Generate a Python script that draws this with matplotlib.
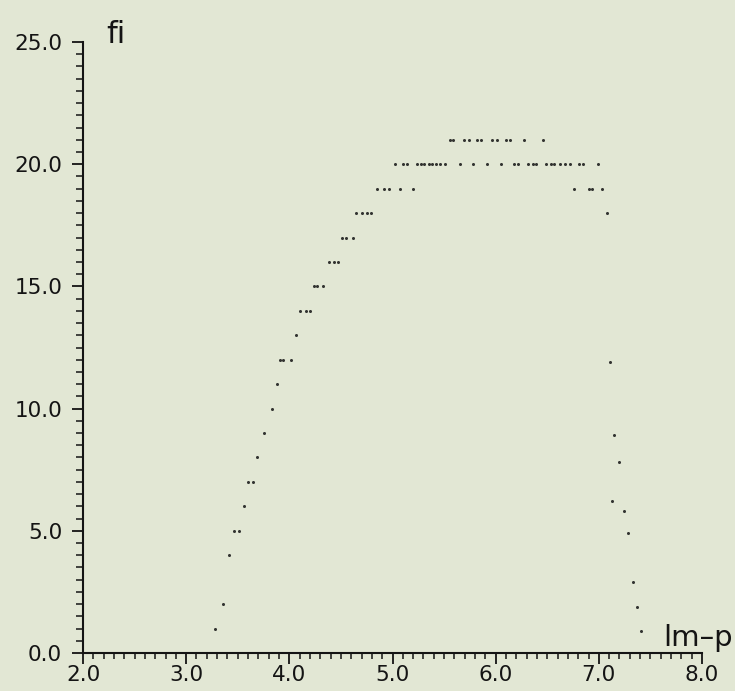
import matplotlib
matplotlib.use("Agg")
import matplotlib.pyplot as plt
from matplotlib.ticker import MultipleLocator, FormatStrFormatter

# values (rows of constant fi)
rows_fi = [1, 2, 4, 5, 6, 7, 8, 9, 10, 11, 12, 13, 14, 15, 16, 17, 18, 19, 20, 21]
rows_lmp = [
    [3.28],
    [3.36],
    [3.42],
    [3.46, 3.51],
    [3.56],
    [3.60, 3.65],
    [3.69],
    [3.75],
    [3.83],
    [3.88],
    [3.91, 3.94, 4.02],
    [4.06],
    [4.10, 4.16, 4.20],
    [4.24, 4.27, 4.33],
    [4.38, 4.43, 4.47],
    [4.51, 4.55, 4.62],
    [4.65, 4.70, 4.75, 4.79, 7.08],
    [4.85, 4.92, 4.97, 5.07, 5.20, 6.76, 6.90, 6.93, 7.03],
    [5.02, 5.10, 5.14, 5.24, 5.28, 5.31, 5.35, 5.38, 5.42, 5.46, 5.51, 5.65,
     5.78, 5.92, 6.05, 6.18, 6.22, 6.31, 6.36, 6.39, 6.49, 6.54, 6.57, 6.62,
     6.67, 6.72, 6.81, 6.85, 6.99],
    [5.56, 5.59, 5.69, 5.74, 5.82, 5.86, 5.96, 6.01, 6.10, 6.14, 6.27, 6.46],
]

# falling branch on the right
fall_lmp = [7.11, 7.15, 7.20, 7.13, 7.24, 7.28, 7.33, 7.37, 7.41]
fall_fi = [11.9, 8.9, 7.8, 6.2, 5.8, 4.9, 2.9, 1.9, 0.9]

x_ticks = [2.0, 3.0, 4.0, 5.0, 6.0, 7.0, 8.0]
y_ticks = [0.0, 5.0, 10.0, 15.0, 20.0, 25.0]

bg = '#e2e7d4'
ink = '#141414'

xs = []
ys = []
for f, row in zip(rows_fi, rows_lmp):
    for v in row:
        xs.append(v)
        ys.append(f)
xs += fall_lmp
ys += fall_fi

fig = plt.figure(figsize=(7.35, 6.91), dpi=100, facecolor=bg)
ax = fig.add_axes([83/735, 38/691, 619/735, 611/691])
ax.set_facecolor(bg)

ax.plot(xs, ys, 'o', ms=2.2, color=ink, alpha=0.85, mec='none', clip_on=False)

ax.set_xlim(2.0, 8.0)
ax.set_ylim(0.0, 25.0)
ax.set_xticks(x_ticks)
ax.set_yticks(y_ticks)
ax.xaxis.set_minor_locator(MultipleLocator(0.1))
ax.yaxis.set_minor_locator(MultipleLocator(0.5))
ax.xaxis.set_major_formatter(FormatStrFormatter('%.1f'))
ax.yaxis.set_major_formatter(FormatStrFormatter('%.1f'))

for s in ['top', 'right']:
    ax.spines[s].set_visible(False)
for s in ['left', 'bottom']:
    ax.spines[s].set_linewidth(1.5)
    ax.spines[s].set_color(ink)

ax.tick_params(axis='x', which='major', direction='out', length=8, width=1.3,
               color=ink, labelsize=15.5, labelcolor=ink, pad=0.5)
ax.tick_params(axis='x', which='minor', direction='out', length=4.5, width=1.1, color=ink)
ax.tick_params(axis='y', which='major', direction='out', length=8, width=1.3,
               color=ink, labelsize=15.5, labelcolor=ink, pad=7)
ax.tick_params(axis='y', which='minor', direction='out', length=5, width=1.1, color=ink)

fig.text(106/735, (691-43)/691, 'fi', fontsize=22, color=ink, va='baseline', ha='left')
fig.text(663/735, (691-646)/691, 'lm\u2013p', fontsize=21, color=ink, va='baseline', ha='left')

fig.savefig('out.png', dpi=100, facecolor=bg)
